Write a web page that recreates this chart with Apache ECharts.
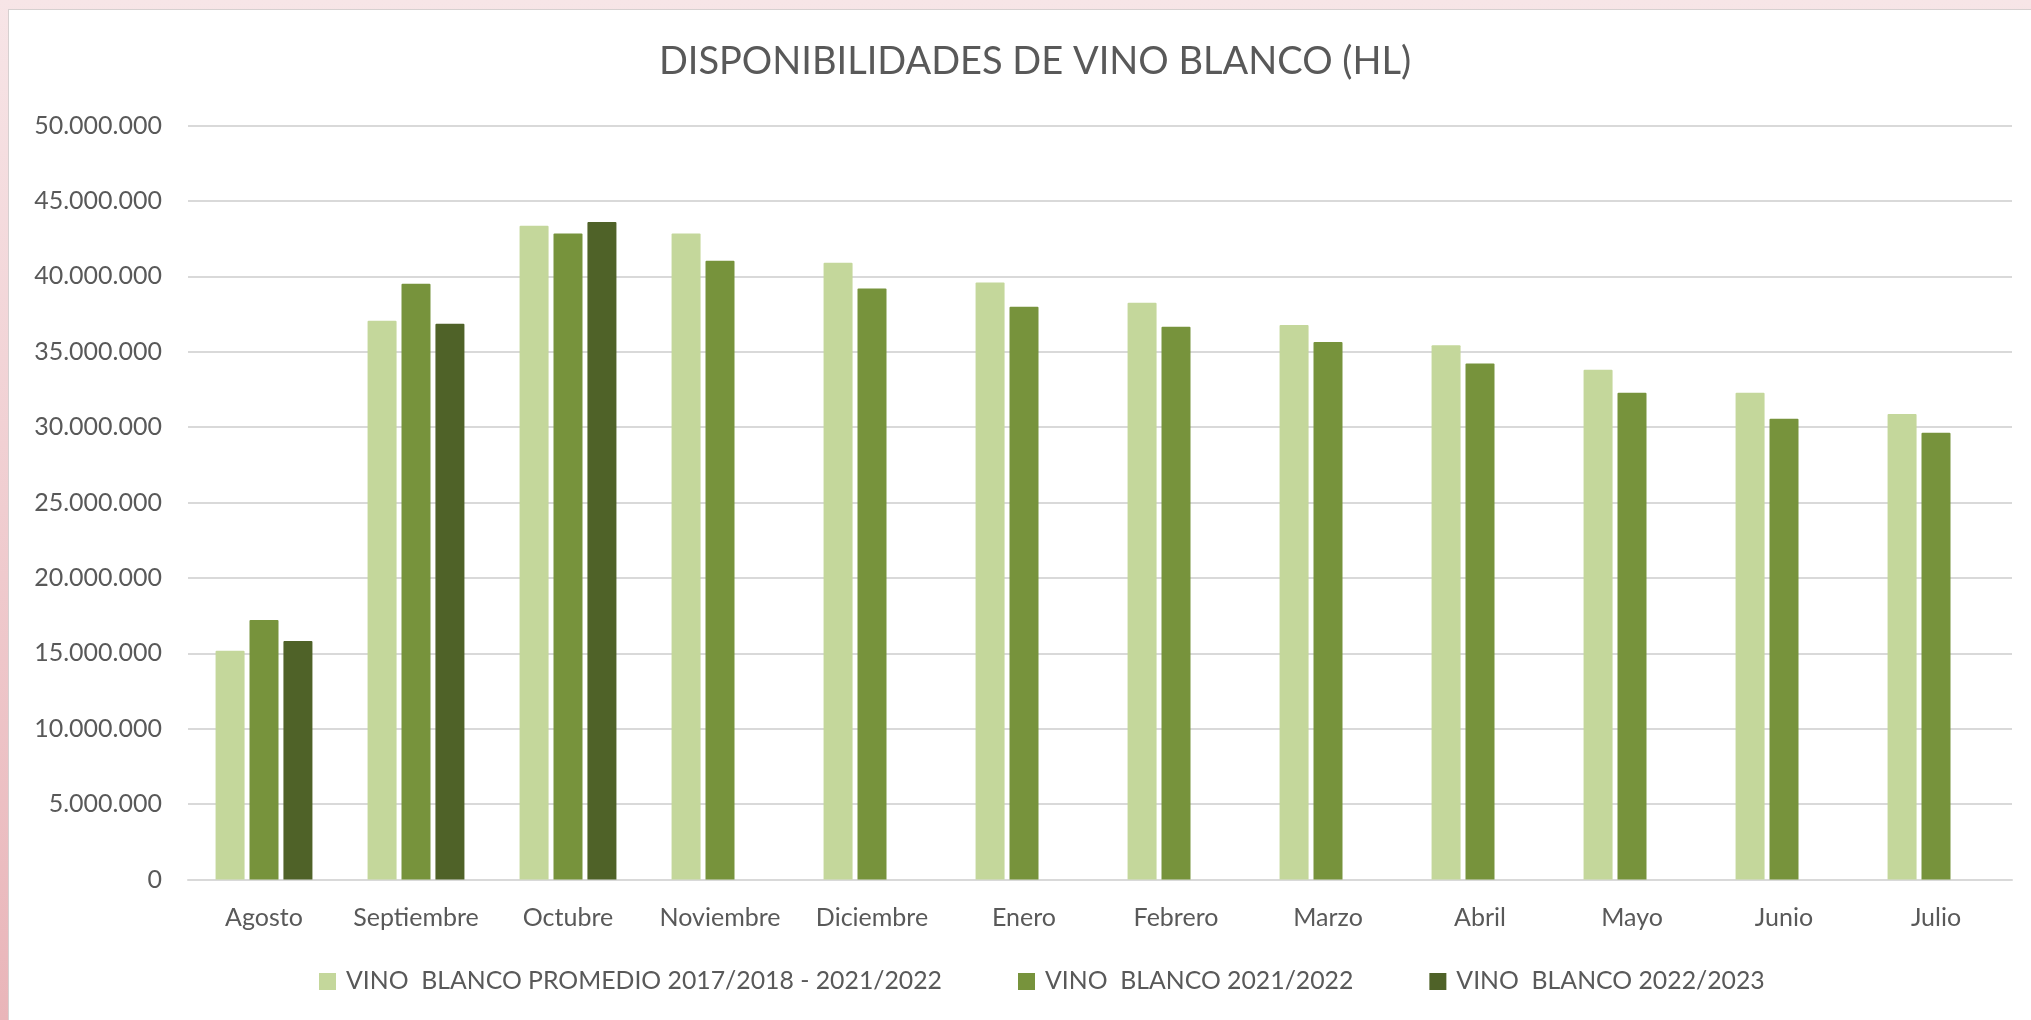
<!DOCTYPE html>
<html>
<head>
<meta charset="utf-8">
<title>Disponibilidades de vino blanco</title>
<script src="https://cdn.jsdelivr.net/npm/echarts@6/dist/echarts.min.js"></script>
<style>
    html, body { margin: 0; padding: 0; }
    body {
        width: 2031px;
        height: 1020px;
        position: relative;
        overflow: hidden;
        background: linear-gradient(to bottom, #f7e5e7, #e9b5b9);
    }
    #panel {
        position: absolute;
        left: 8px;
        top: 9px;
        width: 2040px;
        height: 1020px;
        background: #fff;
        border-top: 1px solid #d6d0d0;
        border-left: 1px solid #d6d0d0;
    }
    #chart {
        position: absolute;
        left: 0;
        top: 0;
        width: 2031px;
        height: 1020px;
    }
</style>
</head>
<body>
<div id="panel"></div>
<div id="chart"></div>
<script>
    // 月份（农业年度：八月到七月）
    const months = ['Agosto', 'Septiembre', 'Octubre', 'Noviembre', 'Diciembre', 'Enero',
        'Febrero', 'Marzo', 'Abril', 'Mayo', 'Junio', 'Julio'];

    const seriesNames = [
        'VINO  BLANCO PROMEDIO 2017/2018 - 2021/2022',
        'VINO  BLANCO 2021/2022',
        'VINO  BLANCO 2022/2023'
    ];

    // 数值（HL）
    const promedio = [15170000, 37060000, 43360000, 42850000, 40900000, 39600000,
        38250000, 36770000, 35440000, 33810000, 32280000, 30870000];
    const blanco2122 = [17210000, 39510000, 42850000, 41040000, 39200000, 37980000,
        36660000, 35640000, 34230000, 32280000, 30560000, 29630000];
    const blanco2223 = [15820000, 36860000, 43600000, null, null, null,
        null, null, null, null, null, null];

    const colors = ['#C4D79B', '#77933C', '#4F6228'];

    function formatThousands(val) {
        return String(val).replace(/\B(?=(\d{3})+(?!\d))/g, '.');
    }

    const chart = echarts.init(document.getElementById('chart'));
    const font = 'Lato, "Noto Sans", sans-serif';

    const barSeries = [promedio, blanco2122, blanco2223].map((data, i) => ({
        name: seriesNames[i],
        type: 'bar',
        data: data,
        barWidth: 29,
        barGap: '17%',
        itemStyle: {
            color: colors[i],
            borderRadius: [1, 1, 0, 0]
        }
    }));

    chart.setOption({
        animation: false,
        color: colors,
        title: {
            text: 'DISPONIBILIDADES DE VINO BLANCO (HL)',
            left: 1030,
            textAlign: 'center',
            top: 38,
            textStyle: {
                color: '#595959',
                fontFamily: font,
                fontSize: 38,
                fontWeight: 'normal'
            }
        },
        legend: {
            left: 314,
            top: 964,
            itemWidth: 17,
            itemHeight: 17,
            itemGap: 76,
            icon: 'rect',
            textStyle: {
                color: '#595959',
                fontFamily: font,
                fontSize: 24.8,
                padding: [0, 0, 0, 5]
            }
        },
        grid: {
            left: 188,
            right: 19,
            top: 125.6,
            bottom: 140.5,
            containLabel: false
        },
        xAxis: {
            type: 'category',
            data: months,
            axisLine: { lineStyle: { color: '#d9d9d9', width: 2 } },
            axisTick: { show: false },
            axisLabel: {
                interval: 0,
                color: '#595959',
                fontFamily: font,
                fontSize: 25,
                margin: 26
            }
        },
        yAxis: {
            type: 'value',
            min: 0,
            max: 50000000,
            interval: 5000000,
            axisLine: { show: false },
            axisTick: { show: false },
            axisLabel: {
                color: '#595959',
                fontFamily: font,
                fontSize: 25,
                margin: 26,
                formatter: formatThousands
            },
            splitLine: {
                lineStyle: { color: '#d9d9d9', width: 2 }
            }
        },
        series: barSeries
    });
</script>
</body>
</html>
